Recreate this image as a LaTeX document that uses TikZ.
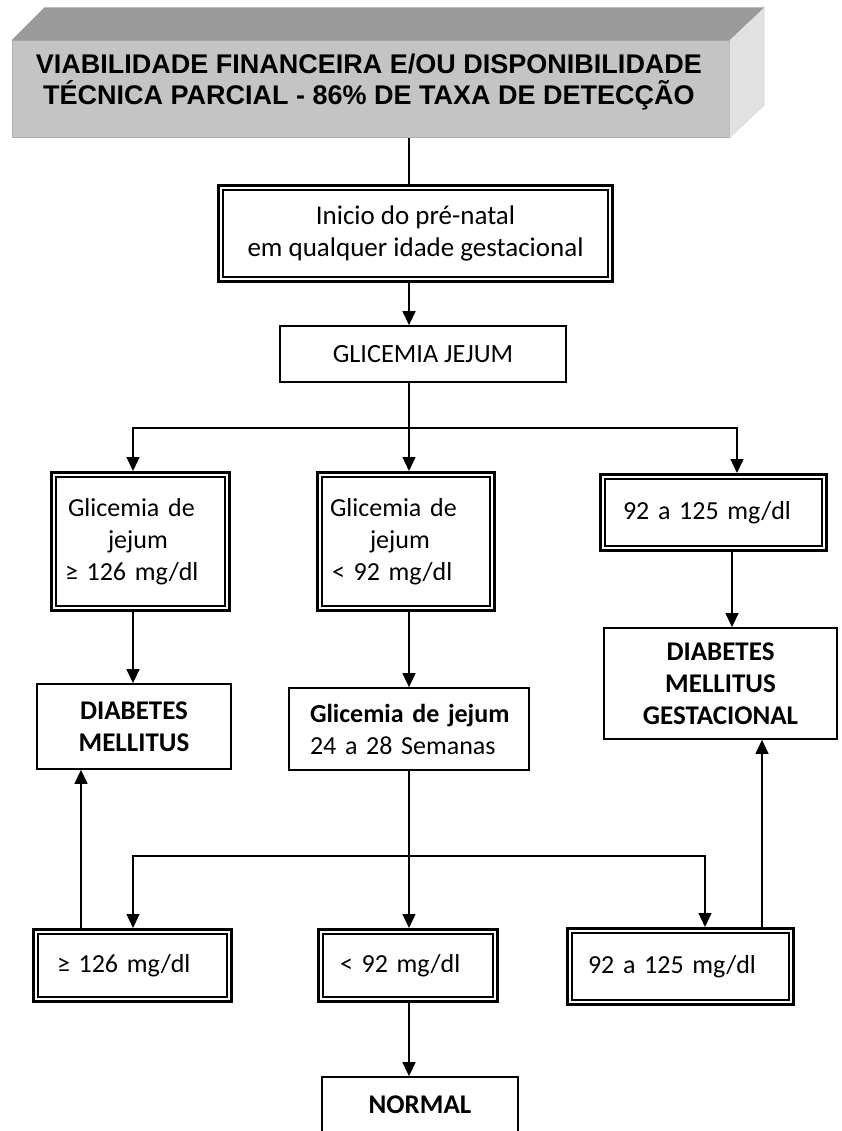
\documentclass[tikz,border=0pt]{standalone}
\usepackage{fontspec}
\setmainfont{Carlito}
\newfontfamily\titlefont{Liberation Sans}
\usetikzlibrary{arrows.meta}
\definecolor{frontface}{HTML}{C4C4C4}
\definecolor{topface}{HTML}{9A9A9A}
\definecolor{sideface}{HTML}{E1E1E1}
\definecolor{faceedge}{HTML}{ADADAD}

\begin{document}
\begin{tikzpicture}[x=1pt,y=-1pt,
  every node/.style={inner sep=0pt, font=\fontsize{27}{32}\selectfont},
  lefttext/.style={font=\fontsize{26}{32}\selectfont, align=left},
  conn/.style={line width=1.4pt},
  arr/.style={conn, -{Triangle[length=14pt,width=13pt]}},
  plainbox/.style={draw, line width=1.8pt, fill=white},
  dbox/.style={draw, line width=3pt, fill=white,
    path picture={\draw[line width=1.6pt]
      ([shift={(4.3pt,-4.3pt)}]path picture bounding box.north west) rectangle
      ([shift={(-4.3pt,4.3pt)}]path picture bounding box.south east);}},
  boldtext/.style={font=\fontsize{27}{32}\selectfont\bfseries},
]
\clip (0,0) rectangle (841,1131);
\fill[white] (0,0) rectangle (841,1131);

% three-dimensional title block
\node[fill=frontface, draw=faceedge, line width=1pt,
      minimum width=717pt, minimum height=97pt] (title) at (370.5,89.5) {};
\fill[topface] (title.north west) -- ([shift={(33pt,33pt)}]title.north west)
  -- ([shift={(35pt,33pt)}]title.north east) -- (title.north east) -- cycle;
\fill[sideface] (title.north east) -- ([shift={(35pt,33pt)}]title.north east)
  -- ([shift={(35pt,33pt)}]title.south east) -- (title.south east) -- cycle;
\node[align=center, font=\titlefont\bfseries\fontsize{27}{31}\selectfont]
  (titletext) at (369,82.5)
  {VIABILIDADE FINANCEIRA E/OU DISPONIBILIDADE\\TÉCNICA PARCIAL - 86\% DE TAXA DE DETECÇÃO};

% boxes
\node[dbox, minimum width=394pt, minimum height=96pt, align=center]
  (inicio) at (415.5,233.5) {Inicio do pré-natal\\em qualquer idade gestacional};
\node[plainbox, minimum width=286pt, minimum height=56pt, font=\fontsize{26.3}{32}\selectfont]
  (glic) at (423,354) {GLICEMIA JEJUM};

\node[dbox, lefttext, minimum width=178pt, minimum height=138pt, text width=151pt]
  (l1) at (140.5,541.5) {\mbox{\hspace*{3pt}Glicemia de}\\\mbox{\hspace*{43pt}jejum}\\\mbox{≥ 126 mg/dl}};
\node[dbox, lefttext, minimum width=177pt, minimum height=138pt, text width=152pt]
  (m1) at (406,541.5) {\mbox{Glicemia de}\\\mbox{\hspace*{40pt}jejum}\\\mbox{\hspace*{2pt}< 92 mg/dl}};
\node[dbox, lefttext, minimum width=226pt, minimum height=76pt, text width=181pt]
  (r1) at (713.5,512.5) {\mbox{92 a 125 mg/dl}};

\node[plainbox, boldtext, minimum width=194pt, minimum height=85pt, align=center]
  (dm) at (134,726.5) {DIABETES\\MELLITUS};
\node[plainbox, lefttext, minimum width=240pt, minimum height=82pt, text width=198pt]
  (m2) at (409,729) {\mbox{\textbf{Glicemia de jejum}}\\\mbox{24 a 28 Semanas}};
\node[plainbox, boldtext, minimum width=233pt, minimum height=111pt, align=center]
  (dmg) at (720.5,683.5) {DIABETES\\MELLITUS\\GESTACIONAL};

\node[dbox, lefttext, minimum width=198pt, minimum height=72pt, text width=151pt]
  (b1) at (132.5,965.5) {\mbox{≥ 126 mg/dl}};
\node[dbox, lefttext, minimum width=179pt, minimum height=72pt, text width=136pt]
  (b2) at (408,965.5) {\mbox{< 92 mg/dl}};
\node[dbox, lefttext, minimum width=226pt, minimum height=76pt, text width=185pt]
  (b3) at (680.5,966.5) {\mbox{92 a 125 mg/dl}};
\node[plainbox, boldtext, minimum width=196pt, minimum height=56pt]
  (normal) at (420,1105) {NORMAL};

% connector columns and junctions
\coordinate (xA) at (133,0);
\coordinate (xB) at (409,0);
\coordinate (xC) at (737,0);
\coordinate (xD) at (81,0);
\coordinate (xE) at (705,0);
\coordinate (xF) at (762,0);
\coordinate (xG) at (732,0);
\coordinate (s1) at (409,428);
\coordinate (s2) at (409,856);

% connectors
\draw[conn] (title.south -| xB) -- (inicio.north -| xB);
\draw[arr] (inicio.south -| xB) -- (glic.north -| xB);
\draw[conn] (glic.south -| xB) -- (s1);
\draw[arr] (s1) -| (l1.north -| xA);
\draw[arr] (s1) -| (r1.north -| xC);
\draw[arr] (s1) -- (m1.north -| xB);
\draw[arr] (l1.south -| xA) -- (dm.north -| xA);
\draw[arr] (m1.south -| xB) -- (m2.north -| xB);
\draw[arr] (r1.south -| xG) -- (dmg.north -| xG);
\draw[conn] (m2.south -| xB) -- (s2);
\draw[arr] (s2) -| (b1.north -| xA);
\draw[arr] (s2) -| (b3.north -| xE);
\draw[arr] (s2) -- (b2.north -| xB);
\draw[arr] (b1.north -| xD) -- (dm.south -| xD);
\draw[arr] (b3.north -| xF) -- (dmg.south -| xF);
\draw[arr] (b2.south -| xB) -- (normal.north -| xB);
\end{tikzpicture}
\end{document}
